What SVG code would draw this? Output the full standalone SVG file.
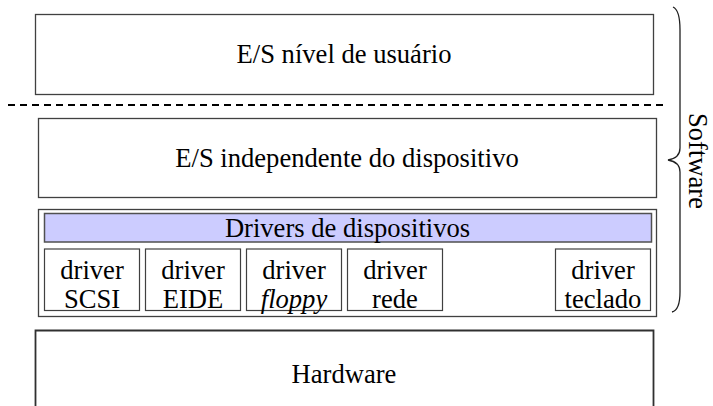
<svg xmlns="http://www.w3.org/2000/svg" width="713" height="406" viewBox="0 0 713 406">
<style>
text{font-family:'Liberation Serif','DejaVu Serif','Times New Roman',Times,serif;font-size:26.6px;fill:#000;text-anchor:middle}
.box{fill:#fff;stroke:#404040;stroke-width:1.3}
.small{fill:#fff;stroke:#404040;stroke-width:1.2}
.bar{fill:#ccccff;stroke:#505050;stroke-width:1.5}
.dash{stroke:#000;stroke-width:2;stroke-dasharray:7 5;fill:none}
.brace{fill:none;stroke:#202020;stroke-width:1.3}
</style>
<rect width="713" height="406" fill="#fff"/>
<g id="usuario">
<rect class="box" x="35.5" y="14.5" width="618" height="80"/>
<text x="344" y="63">E/S nível de usuário</text>
</g>
<g id="independente">
<rect class="box" x="38.5" y="118.5" width="618" height="79"/>
<text x="347" y="167">E/S independente do dispositivo</text>
</g>
<g id="drivers">
<rect class="box" x="38.5" y="209.5" width="618" height="107"/>
<rect class="bar" x="44.5" y="213.5" width="607" height="28.5"/>
<text x="347.5" y="236.5">Drivers de dispositivos</text>
</g>
<g id="scsi">
<rect class="small" x="44.5" y="249" width="95" height="61.5"/>
<text x="92" y="279">driver</text>
<text x="92" y="308">SCSI</text>
</g>
<g id="eide">
<rect class="small" x="145.5" y="249" width="95" height="61.5"/>
<text x="193" y="279">driver</text>
<text x="193" y="308">EIDE</text>
</g>
<g id="floppy">
<rect class="small" x="246.5" y="249" width="95" height="61.5"/>
<text x="294" y="279">driver</text>
<text x="294" y="308" font-style="italic">floppy</text>
</g>
<g id="rede">
<rect class="small" x="347.5" y="249" width="95" height="61.5"/>
<text x="395" y="279">driver</text>
<text x="395" y="308">rede</text>
</g>
<g id="teclado">
<rect class="small" x="555.5" y="249" width="95" height="61.5"/>
<text x="603" y="279">driver</text>
<text x="603" y="308">teclado</text>
</g>
<g id="hardware">
<path d="M35.5,410 V330.5 H653.5 V410" fill="#fff" stroke="#303030" stroke-width="1.8"/>
<text x="344" y="383">Hardware</text>
</g>
<g id="connectors">
<line class="dash" x1="8" y1="105" x2="667" y2="105"/>
<path class="brace" d="M673,7 Q680,10 680,30 L680,148 Q680,158 668,160 Q680,162 680,172 L680,292 Q680,310 672,312"/>
<text transform="translate(689,161) rotate(90)">Software</text>
</g>
</svg>
